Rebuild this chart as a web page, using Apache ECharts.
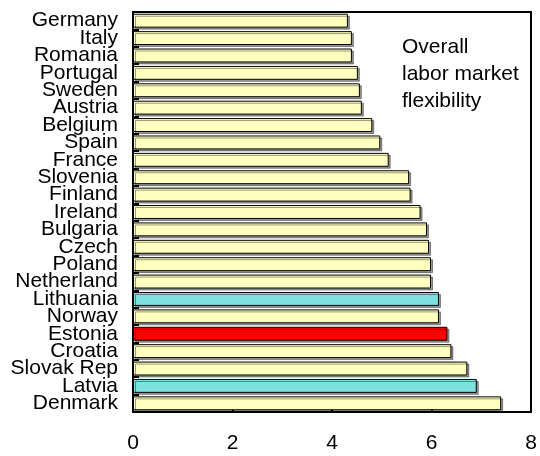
<!DOCTYPE html>
<html>
<head>
<meta charset="utf-8">
<script src="https://cdn.jsdelivr.net/npm/echarts@6/dist/echarts.min.js"></script>
<style>
  html, body { margin: 0; padding: 0; background: #fff; }
  #chart { width: 540px; height: 456px; }
</style>
</head>
<body>
<div id="chart"></div>
<script>
// Countries, top to bottom
const countries = [
  'Germany', 'Italy', 'Romania', 'Portugal', 'Sweden', 'Austria', 'Belgium',
  'Spain', 'France', 'Slovenia', 'Finland', 'Ireland', 'Bulgaria', 'Czech',
  'Poland', 'Netherland', 'Lithuania', 'Norway', 'Estonia', 'Croatia',
  'Slovak Rep', 'Latvia', 'Denmark'
];

// Overall labor market flexibility score
const flexibility = [
  4.32, 4.40, 4.40, 4.52, 4.56, 4.60, 4.81,
  4.97, 5.14, 5.55, 5.58, 5.78, 5.91, 5.95,
  5.99, 5.99, 6.15, 6.15, 6.32, 6.40,
  6.72, 6.91, 7.40
];

// Highlight groups
const balticPeers = ['Lithuania', 'Latvia'];
const focusCountry = 'Estonia';

const xTicks = [0, 2, 4, 6, 8];

const colorDefault = '#FFFFC0';
const colorPeer = '#7FE0E0';
const colorFocus = '#FF0000';

const font = '"Liberation Sans", Arial, sans-serif';

const barData = countries.map((c, i) => ({
  value: flexibility[i],
  itemStyle: {
    color: c === focusCountry ? colorFocus : (balticPeers.includes(c) ? colorPeer : colorDefault)
  }
}));

const chart = echarts.init(document.getElementById('chart'), null, { renderer: 'canvas' });

chart.setOption({
  animation: false,
  backgroundColor: '#fff',
  grid: {
    left: 133, right: 9, top: 12, bottom: 44,
    show: true, borderColor: '#000', borderWidth: 2, backgroundColor: 'transparent'
  },
  xAxis: {
    type: 'value',
    min: xTicks[0],
    max: xTicks[xTicks.length - 1],
    interval: 2,
    splitLine: { show: false },
    axisLine: { show: true, lineStyle: { color: '#000', width: 2 } },
    axisTick: { show: true, inside: true, length: 5, lineStyle: { color: '#000', width: 2 } },
    axisLabel: { color: '#000', fontFamily: font, fontSize: 21, margin: 21 }
  },
  yAxis: {
    type: 'category',
    data: countries,
    inverse: true,
    axisLine: { show: true, lineStyle: { color: '#000', width: 2 } },
    axisTick: { show: true, inside: true, length: 6, lineStyle: { color: '#000', width: 2 } },
    axisLabel: { color: '#000', fontFamily: font, fontSize: 21, margin: 15, interval: 0 }
  },
  series: [{
    type: 'bar',
    data: barData,
    barCategoryGap: '20%',
    itemStyle: {
      borderColor: '#000',
      borderWidth: 1,
      shadowColor: 'rgba(0,0,0,0.4)',
      shadowOffsetX: 2,
      shadowOffsetY: 2,
      shadowBlur: 0
    }
  }],
  graphic: [{
    type: 'text',
    left: 402,
    top: 34,
    style: {
      text: 'Overall\nlabor market\nflexibility',
      font: '21px ' + font,
      lineHeight: 27,
      fill: '#000'
    }
  }]
});
</script>
</body>
</html>
